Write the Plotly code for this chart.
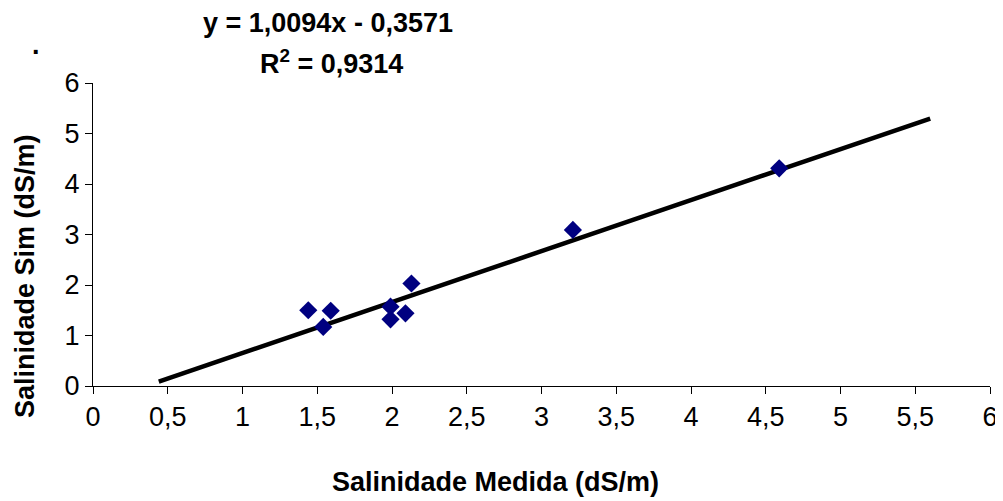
import plotly.graph_objects as go

medida = [1.44, 1.54, 1.59, 1.99, 1.99, 2.09, 2.13, 3.21, 4.59]
simulada = [1.50, 1.17, 1.49, 1.57, 1.32, 1.44, 2.03, 3.09, 4.31]
slope = 1.0094
intercept = -0.3571
trend_x = [0.44, 5.60]
trend_y = [slope * v + intercept for v in trend_x]
x_ticks = [0, 0.5, 1, 1.5, 2, 2.5, 3, 3.5, 4, 4.5, 5, 5.5, 6]
x_tick_labels = ["0", "0,5", "1", "1,5", "2", "2,5", "3", "3,5", "4", "4,5", "5", "5,5", "6"]
y_ticks = [0, 1, 2, 3, 4, 5, 6]

FONT = "Liberation Sans, Arial, sans-serif"
FS = 27

fig = go.Figure()
fig.add_trace(go.Scatter(x=trend_x, y=trend_y, mode="lines",
                         line=dict(color="black", width=4.5), showlegend=False))
fig.add_trace(go.Scatter(x=medida, y=simulada, mode="markers",
                         marker=dict(symbol="diamond", size=14, color="#000080",
                                     line=dict(width=0)), showlegend=False))

# page offset of 8px from default body margin
L, R, T, B = 85, 13, 75, 115
W, H = 995, 493
fig.update_layout(
    width=W, height=H,
    margin=dict(l=L, r=R, t=T, b=B, autoexpand=False),
    paper_bgcolor="white", plot_bgcolor="white",
    font=dict(family=FONT, size=FS, color="black"),
    xaxis=dict(range=[0, 6], tickvals=x_ticks, ticktext=x_tick_labels,
               showgrid=False, zeroline=False, showline=True, linecolor="black",
               linewidth=1, ticks="outside", ticklen=7, tickcolor="black",
               tickfont=dict(size=FS)),
    yaxis=dict(range=[0, 6], tickvals=y_ticks, showgrid=False, zeroline=False,
               showline=True, linecolor="black", linewidth=1, ticks="outside",
               ticklen=7, tickcolor="black", tickfont=dict(size=FS)),
)

pw, ph = 990 - 93, 386 - 83
def ann(text, px, py, angle=0):
    return dict(text=text, x=(px - 93) / pw, y=(386 - py) / ph, xref="paper", yref="paper",
                xanchor="center", yanchor="middle", showarrow=False, textangle=angle,
                font=dict(size=FS))

fig.update_layout(annotations=[
    ann("<b>y = 1,0094x - 0,3571</b>", 328, 23),
    ann("<b>R<sup>2</sup> = 0,9314</b>", 331, 62),
    ann("<b>.</b>", 36, 45),
    ann("<b>Salinidade Medida (dS/m)</b>", 495, 482),
    ann("<b>Salinidade Sim (dS/m)</b>", 25, 276, -90),
])

fig.write_html("out.html")
